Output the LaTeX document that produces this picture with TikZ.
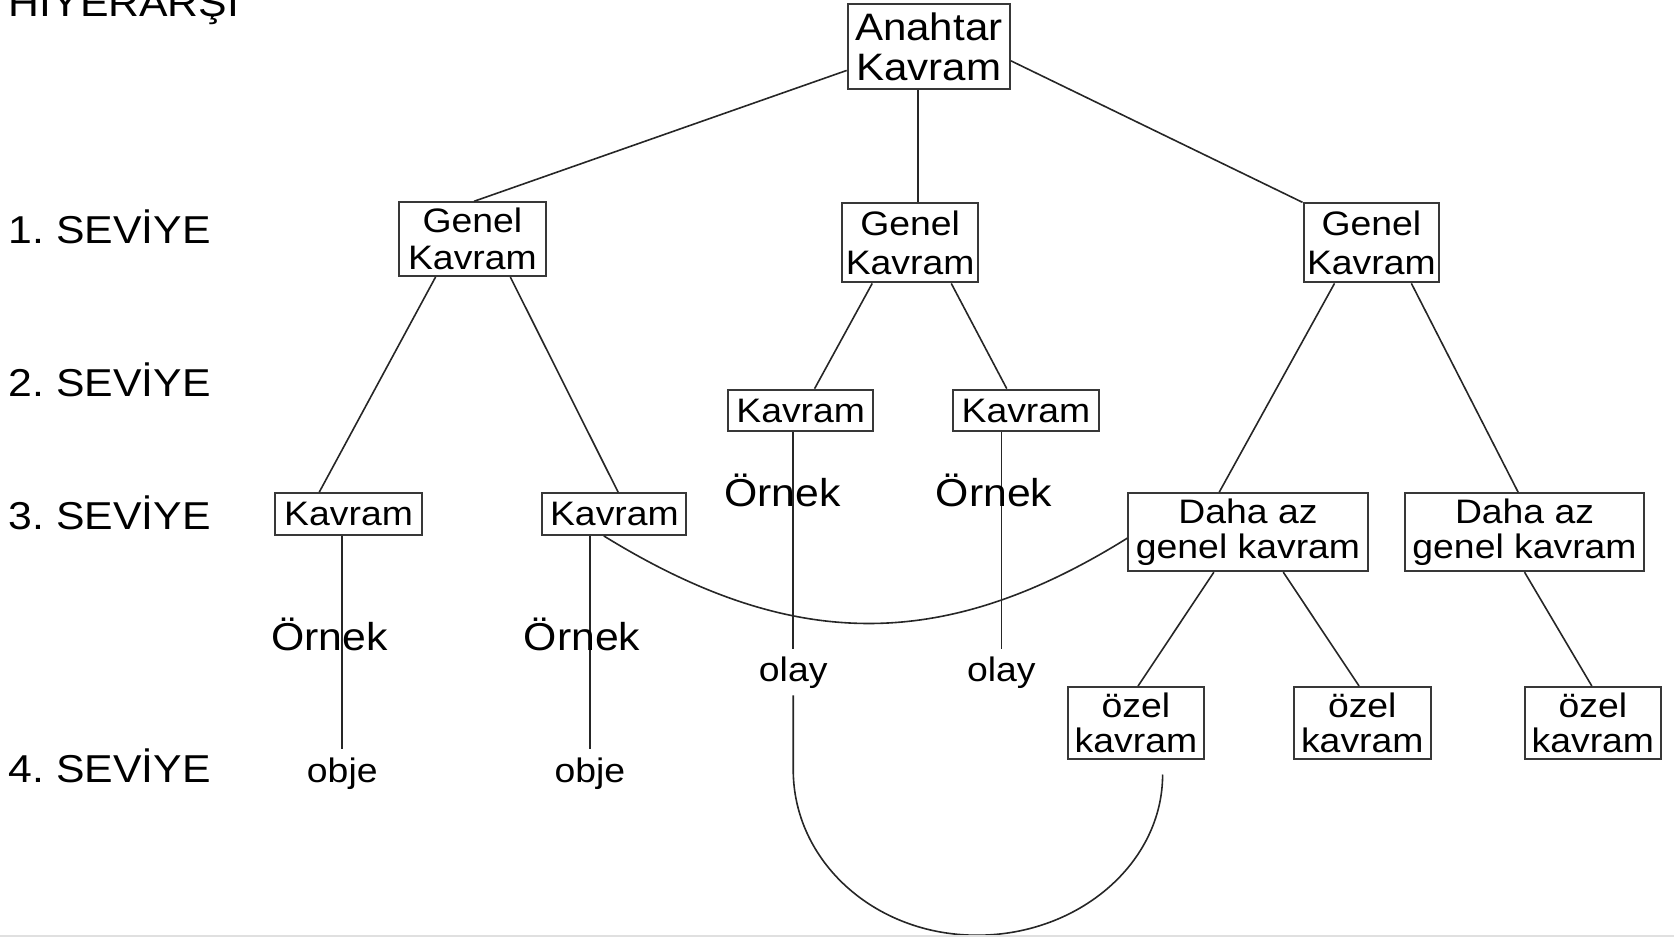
\documentclass[tikz,border=0pt]{standalone}
\usepackage{fontspec}
\setmainfont{Liberation Sans}[FakeStretch=1.1]
\usetikzlibrary{calc}
\begin{document}
\begin{tikzpicture}[x=1pt,y=-1pt,
  box/.style={draw=black!78, line width=1.9pt, fill=white, inner sep=0pt, align=center,
              font=\fontsize{31.8}{34.4}\selectfont},
  conn/.style={black!85, line width=1.5pt},
  lvl/.style={font=\fontsize{36.4}{40}\selectfont, inner sep=0pt, anchor=base west},
  ex/.style={font=\fontsize{36.4}{40}\selectfont, inner sep=0pt, anchor=base},
  leaf/.style={font=\fontsize{31.8}{34}\selectfont, inner sep=6.5pt, anchor=base}]
\useasboundingbox (0,0) rectangle (1568,878);

% level labels
\node[lvl] (h0) at (8,15.6) {HIYERARŞI};
\node[lvl] (h1) at (8,228.4) {1.\hspace{11pt}SEVİYE};
\node[lvl] (h2) at (8,371.4) {2.\hspace{11pt}SEVİYE};
\node[lvl] (h3) at (8,496.4) {3.\hspace{11pt}SEVİYE};
\node[lvl] (h4) at (8,733.4) {4.\hspace{11pt}SEVİYE};

% boxes
\node[box, minimum width=152pt, minimum height=79pt, font=\fontsize{35.8}{37.5}\selectfont] (top) at (870,43.5) {Anahtar\\Kavram};
\node[box, minimum width=137pt, minimum height=69pt] (gL) at (442.5,224) {Genel\\Kavram};
\node[box, minimum width=127pt, minimum height=74pt, font=\fontsize{31.8}{36}\selectfont] (gM) at (852.5,227.5) {Genel\\Kavram};
\node[box, minimum width=127pt, minimum height=74pt, font=\fontsize{31.8}{36}\selectfont] (gR) at (1284.5,227.5) {Genel\\Kavram};
\node[box, minimum width=136pt, minimum height=39pt] (kM1) at (750,384.5) {Kavram};
\node[box, minimum width=136pt, minimum height=39pt] (kM2) at (961,384.5) {Kavram};
\node[box, minimum width=137pt, minimum height=39pt] (kL1) at (326.5,481.5) {Kavram};
\node[box, minimum width=135pt, minimum height=39pt] (kL2) at (575.5,481.5) {Kavram};
\node[box, minimum width=224pt, minimum height=73pt, font=\fontsize{31.8}{32.5}\selectfont] (d1) at (1169,498.5) {Daha az\\genel kavram};
\node[box, minimum width=224pt, minimum height=73pt, font=\fontsize{31.8}{32.5}\selectfont] (d2) at (1428,498.5) {Daha az\\genel kavram};
\node[box, minimum width=128pt, minimum height=67pt, font=\fontsize{31.8}{33}\selectfont] (o1) at (1064,677) {özel\\kavram};
\node[box, minimum width=128pt, minimum height=67pt, font=\fontsize{31.8}{33}\selectfont] (o2) at (1276,677) {özel\\kavram};
\node[box, minimum width=128pt, minimum height=67pt, font=\fontsize{31.8}{33}\selectfont] (o3) at (1492,677) {özel\\kavram};

% leaf texts
\node[leaf, inner sep=7.5pt] (ob1) at (320.6,732.6) {obje};
\node[leaf, inner sep=7.5pt] (ob2) at (552.6,732.6) {obje};
\node[leaf] (ol1) at (743,638) {olay};
\node[leaf] (ol2) at (938,638) {olay};

% tree connectors
\draw[conn] ([yshift=-22.5pt]top.west) -- ([xshift=1.5pt]gL.north);
\draw[conn] ([xshift=-10pt]top.south) -- ([xshift=7.5pt]gM.north);
\draw[conn] ([yshift=-13.5pt]top.east) -- (gR.north west);
\draw[conn] ([xshift=-34.5pt]gL.south) -- ([xshift=-27.5pt]kL1.north);
\draw[conn] ([xshift=35.5pt]gL.south) -- ([xshift=3.5pt]kL2.north);
\draw[conn] ([xshift=-35.5pt]gM.south) -- ([xshift=13pt]kM1.north);
\draw[conn] ([xshift=38.5pt]gM.south) -- ([xshift=-18pt]kM2.north);
\draw[conn] ([xshift=-34.5pt]gR.south) -- ([xshift=-27pt]d1.north);
\draw[conn] ([xshift=37.5pt]gR.south) -- ([xshift=-6pt]d2.north);
\draw[conn] ([xshift=-32pt]d1.south) -- ([xshift=2pt]o1.north);
\draw[conn] ([xshift=33pt]d1.south) -- ([xshift=-3pt]o2.north);
\draw[conn] (d2.south) -- ([xshift=-1pt]o3.north);

% example lines
\draw[conn] (kL1.south -| ob1.north) -- (ob1.north);
\draw[conn] (kL2.south -| ob2.north) -- (ob2.north);
\draw[conn] (kM1.south -| ol1.north) -- (ol1.north);
\draw[conn] (kM2.south -| ol2.north) -- (ol2.north);

% example labels
\node[ex] (e1) at (308.8,609.5) {Örnek};
\node[ex] (e2) at (545.3,609.5) {Örnek};
\node[ex] (e3) at (733,474.6) {Örnek};
\node[ex] (e4) at (931.2,474.6) {Örnek};

% cross links
\draw[conn] ([xshift=-10pt]kL2.south) .. controls (740,609.5) and (882,612.5) .. ([yshift=-5.5pt]d1.west);
\coordinate (arcB) at (915,876);
\coordinate (arcR) at ([xshift=25pt,yshift=-14pt]o1.south);
\draw[conn] (ol1.south) -- (743,721) .. controls +(0,85.6) and +(-96,0) .. (arcB)
  .. controls +(96,0) and (arcR |- 0,808) .. (arcR);

% page edge
\draw[black!12, line width=1.5pt] (0,877) -- (1568,877);
\end{tikzpicture}
\end{document}
